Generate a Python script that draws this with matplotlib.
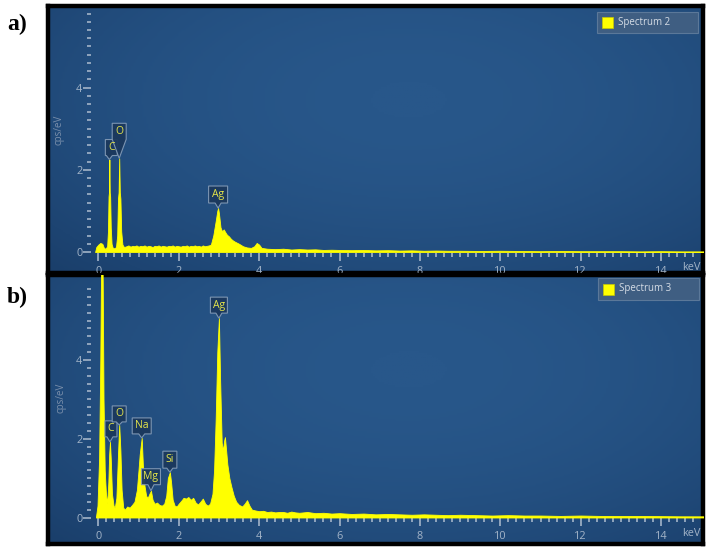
import numpy as np
import matplotlib
matplotlib.use('Agg')
import matplotlib.pyplot as plt
import matplotlib.transforms as mtransforms
from matplotlib.patches import Rectangle, Polygon
from matplotlib.colors import LinearSegmentedColormap
from matplotlib.ticker import FixedLocator

plt.rcParams['font.family'] = ['Open Sans', 'DejaVu Sans']

# ---- data ----
# Spectrum 2 (panel a)
spec2_kev = [-0.08, -0.05, 0.00, 0.05, 0.10, 0.14, 0.18, 0.22, 0.24, 0.255, 0.265, 0.275,
             0.285, 0.295, 0.31, 0.33, 0.36, 0.40, 0.44, 0.47, 0.49, 0.505, 0.52, 0.535,
             0.55, 0.57, 0.60, 0.64, 0.70, 0.75, 0.80, 0.85, 0.90, 0.95, 1.00, 1.05, 1.10,
             1.15, 1.20, 1.25, 1.30, 1.35, 1.40, 1.45, 1.50, 1.55, 1.60, 1.65, 1.70, 1.75,
             1.80, 1.85, 1.90, 1.95, 2.00, 2.05, 2.10, 2.15, 2.20, 2.25, 2.30, 2.35, 2.40,
             2.45, 2.50, 2.55, 2.60, 2.65, 2.70, 2.75, 2.80, 2.86, 2.92, 2.96, 2.98, 3.00,
             3.04, 3.08, 3.12, 3.16, 3.20, 3.25, 3.30, 3.35, 3.40, 3.50, 3.60, 3.70, 3.80,
             3.88, 3.94, 4.00, 4.06, 4.20, 4.40, 4.60, 4.80, 5.00, 5.20, 5.40, 5.60, 5.80,
             6.00, 6.30, 6.60, 6.90, 7.20, 7.50, 7.80, 8.10, 8.40, 8.70, 9.00, 9.50, 10.0,
             10.5, 11.0, 11.5, 12.0, 12.5, 13.0, 13.5, 14.0, 14.5, 15.1]
spec2_cps = [0.00, 0.12, 0.18, 0.22, 0.20, 0.10, 0.08, 0.14, 0.50, 1.35, 1.45, 2.25,
             1.45, 1.35, 0.60, 0.20, 0.10, 0.09, 0.12, 0.40, 1.30, 1.45, 2.28, 1.45,
             1.30, 0.50, 0.18, 0.12, 0.14, 0.16, 0.13, 0.15, 0.14, 0.16, 0.13, 0.15, 0.14,
             0.16, 0.13, 0.15, 0.14, 0.12, 0.15, 0.14, 0.16, 0.13, 0.15, 0.14, 0.13, 0.15,
             0.14, 0.16, 0.13, 0.15, 0.14, 0.13, 0.15, 0.14, 0.16, 0.13, 0.15, 0.14, 0.16,
             0.14, 0.15, 0.13, 0.16, 0.14, 0.15, 0.16, 0.18, 0.40, 0.75, 1.00, 1.07, 0.95,
             0.60, 0.50, 0.55, 0.48, 0.42, 0.38, 0.32, 0.28, 0.25, 0.20, 0.14, 0.11, 0.10,
             0.14, 0.22, 0.18, 0.10, 0.08, 0.07, 0.08, 0.06, 0.07, 0.06, 0.065, 0.05, 0.055,
             0.05, 0.045, 0.05, 0.04, 0.045, 0.035, 0.04, 0.03, 0.035, 0.03, 0.03, 0.025, 0.03,
             0.025, 0.02, 0.025, 0.02, 0.02, 0.02, 0.015, 0.02, 0.015, 0.015]

# Spectrum 3 (panel b)
spec3_kev = [-0.06, -0.02, 0.02, 0.05, 0.07, 0.09, 0.11, 0.13, 0.16, 0.19, 0.22, 0.25,
             0.27, 0.29, 0.31, 0.34, 0.38, 0.41, 0.45, 0.49, 0.52, 0.55, 0.58, 0.62, 0.66,
             0.72, 0.78, 0.84, 0.90, 0.96, 1.00, 1.03, 1.08, 1.11, 1.15, 1.19, 1.23, 1.27,
             1.31, 1.35, 1.40, 1.46, 1.52, 1.58, 1.64, 1.69, 1.73, 1.78, 1.81, 1.85, 1.90,
             1.95, 2.00, 2.06, 2.12, 2.18, 2.24, 2.30, 2.36, 2.42, 2.48, 2.54, 2.60, 2.66,
             2.72, 2.78, 2.84, 2.88, 2.92, 2.96, 3.00, 3.03, 3.07, 3.10, 3.13, 3.15, 3.18,
             3.21, 3.26, 3.31, 3.37, 3.43, 3.50, 3.58, 3.64, 3.70, 3.76, 3.82, 3.90, 4.00,
             4.10, 4.20, 4.30, 4.40, 4.50, 4.60, 4.70, 4.80, 4.90, 5.00, 5.20, 5.40, 5.60,
             5.80, 6.00, 6.30, 6.60, 6.90, 7.20, 7.50, 7.80, 8.10, 8.40, 8.70, 9.00, 9.40,
             9.80, 10.2, 10.6, 11.0, 11.5, 12.0, 12.5, 13.0, 13.5, 14.0, 14.5, 15.1]
spec3_cps = [0.00, 0.30, 1.50, 4.00, 6.50, 7.50, 6.00, 3.00, 1.20, 0.60, 0.35, 0.90,
             1.60, 1.92, 1.50, 0.60, 0.30, 0.25, 0.50, 1.60, 2.35, 1.70, 0.70, 0.25, 0.20,
             0.28, 0.25, 0.32, 0.40, 0.70, 1.20, 1.60, 2.02, 1.30, 0.80, 0.55, 0.50, 0.60,
             0.68, 0.45, 0.35, 0.38, 0.32, 0.30, 0.35, 0.55, 1.00, 1.15, 0.90, 0.45, 0.30,
             0.28, 0.35, 0.42, 0.50, 0.48, 0.52, 0.45, 0.50, 0.38, 0.33, 0.40, 0.48, 0.35,
             0.30, 0.35, 0.60, 1.20, 2.50, 4.20, 5.06, 3.50, 1.90, 1.70, 1.95, 2.04, 1.70,
             1.35, 1.00, 0.78, 0.55, 0.40, 0.32, 0.28, 0.35, 0.44, 0.30, 0.20, 0.18, 0.16,
             0.17, 0.14, 0.15, 0.13, 0.14, 0.14, 0.12, 0.15, 0.13, 0.12, 0.14, 0.11, 0.12,
             0.10, 0.11, 0.09, 0.10, 0.08, 0.09, 0.08, 0.07, 0.08, 0.07, 0.06, 0.07, 0.06,
             0.05, 0.06, 0.05, 0.05, 0.04, 0.05, 0.04, 0.04, 0.04, 0.035, 0.03, 0.03]

# peak labels: element, keV, cps at tag tip
tags2_el = ['C', 'O', 'Ag']
tags2_kev = [0.275, 0.52, 2.98]
tags2_cps = [2.25, 2.28, 1.07]
tags3_el = ['C', 'O', 'Na', 'Mg', 'Si', 'Ag']
tags3_kev = [0.29, 0.52, 1.08, 1.31, 1.78, 3.00]
tags3_cps = [1.92, 2.35, 2.02, 0.68, 1.15, 5.06]

x_major = [0, 2, 4, 6, 8, 10, 12, 14]
y_major = [0, 2, 4]

# ---- layout (pixels of a 708x549 picture) ----
W, H = 708, 549
fig = plt.figure(figsize=(W / 100, H / 100), dpi=100)
fig.patch.set_facecolor('white')


def fr(left, top, right, bottom):
    return [left / W, 1 - bottom / H, (right - left) / W, (bottom - top) / H]


bgcmap = LinearSegmentedColormap.from_list('eds', ['#14335a', '#1d4472', '#28578a'])
gx, gy = np.meshgrid(np.linspace(0, 1, 300), np.linspace(0, 1, 150))
field = 1 - ((gx - 0.55) / 0.75) ** 2 - ((gy - 0.65) / 0.9) ** 2

tickc = '#a3b4c8'

# tag layout: (dx, gap, width, height, pointer half-width) in pixels
tags2_lay = [(2, 4, 12, 16, 3), (0, 19, 14, 16, 7), (0, 5, 19, 17, 3)]
tags3_lay = [(1, 5, 12, 16, 3), (0, 3, 14, 16, 3), (0, 4, 19, 16, 3),
             (0, 6, 19, 16, 3), (0, 4, 14, 17, 3), (0, 5, 17, 16, 3)]


def panel(box, x0, y0, xppu, yppu, kev, cps, tags_el, tags_kev, tags_cps, tags_lay,
          ytop_tick, letter, letter_xy, ylab_xy, kev_xy, legend_box, legend_txt):
    left, top, right, bottom = box
    bg = fig.add_axes(fr(*box))
    bg.imshow(field, cmap=bgcmap, extent=[0, 1, 0, 1], aspect='auto', origin='lower',
              vmin=-0.6, vmax=1.0)
    bg.set_xticks([])
    bg.set_yticks([])
    for s in bg.spines.values():
        s.set_color('black')
        s.set_linewidth(3.2)

    ax = fig.add_axes(fr(*box))
    ax.patch.set_alpha(0)
    ax.set_xlim((left - x0) / xppu, (right - x0) / xppu)
    ax.set_ylim((y0 - bottom) / yppu, (y0 - top) / yppu)
    for s in ax.spines.values():
        s.set_visible(False)
    ax.spines['left'].set_position(('data', -0.17))
    ax.spines['bottom'].set_position(('data', -0.02))

    ax.fill_between(kev, cps, 0, color='#ffff00', lw=0.6, zorder=3)

    ax.xaxis.set_major_locator(FixedLocator(x_major))
    ax.yaxis.set_major_locator(FixedLocator(y_major))
    xmin = [v for v in np.round(np.arange(0.2, 14.95, 0.2), 1) if v % 2 != 0]
    ymin = [v for v in np.round(np.arange(0.2, ytop_tick + 0.01, 0.2), 1) if v % 2 != 0]
    ax.xaxis.set_minor_locator(FixedLocator(xmin))
    ax.yaxis.set_minor_locator(FixedLocator(ymin))
    ax.tick_params(which='major', direction='out', color=tickc, labelcolor=tickc,
                   labelsize=7.8, length=5.5, width=1.2)
    ax.tick_params(which='minor', direction='out', color=tickc, length=3, width=1.2)
    ax.tick_params(axis='y', which='major', pad=1)
    ax.tick_params(axis='x', which='major', pad=4)

    # peak tags
    for el, kx, ky, (dx, gap, w, h, ph) in zip(tags_el, tags_kev, tags_cps, tags_lay):
        tr = mtransforms.ScaledTranslation(kx, ky, ax.transData)
        verts = [(dx - w / 2, gap + h), (dx + w / 2, gap + h), (dx + w / 2, gap),
                 (min(ph, dx + w / 2), gap), (0, 0), (max(-ph, dx - w / 2), gap),
                 (dx - w / 2, gap)]
        ax.add_patch(Polygon(verts, closed=True, transform=tr, fc='#1b385d',
                             ec='#8199b5', lw=0.8, alpha=0.95, zorder=5))
        ax.text(kx, ky, el, transform=mtransforms.offset_copy(
            ax.transData, fig=fig, x=dx, y=gap + h / 2, units='dots'),
            ha='center', va='center', fontsize=7.5, color='#e6e64a', zorder=6)

    # legend
    lx0, ly0, lx1, ly1 = legend_box
    fig.patches.append(Rectangle((lx0 / W, 1 - ly1 / H), (lx1 - lx0) / W, (ly1 - ly0) / H,
                                 transform=fig.transFigure, fc='#3f5e82', ec='#5b7899',
                                 lw=0.8, zorder=10))
    sq = 11
    fig.patches.append(Rectangle(((lx0 + 5) / W, 1 - ((ly0 + ly1) / 2 + sq / 2) / H),
                                 sq / W, sq / H, transform=fig.transFigure,
                                 fc='#ffff00', ec='#c8c800', lw=0.5, zorder=11))
    fig.text((lx0 + 21) / W, 1 - (ly0 + ly1) / 2 / H, legend_txt, fontsize=7,
             color='#d6dde6', va='center', ha='left', zorder=12)

    fig.text(ylab_xy[0] / W, 1 - ylab_xy[1] / H, 'cps/eV', rotation=90, fontsize=7,
             color='#7a8fab', ha='center', va='center')
    fig.text(kev_xy[0] / W, 1 - kev_xy[1] / H, 'keV', fontsize=7.8, color=tickc,
             ha='center', va='center')
    fig.text(letter_xy[0] / W, 1 - letter_xy[1] / H, letter, fontsize=17,
             fontweight='bold', family='Liberation Serif', ha='center', va='center')


panel((48, 6, 703, 273), 98.3, 252.0, 40.2, 41.1, spec2_kev, spec2_cps,
      tags2_el, tags2_kev, tags2_cps, tags2_lay, 5.8, 'a)', (17, 24), (59, 130),
      (691, 268), (597, 12, 698, 33), 'Spectrum 2')
panel((48, 275, 703, 544), 98.3, 517.5, 40.2, 39.4, spec3_kev, spec3_cps,
      tags3_el, tags3_kev, tags3_cps, tags3_lay, 6.0, 'b)', (17, 297), (61, 398),
      (691, 533), (598, 278, 699, 300), 'Spectrum 3')

fig.savefig('out.png', dpi=100)
